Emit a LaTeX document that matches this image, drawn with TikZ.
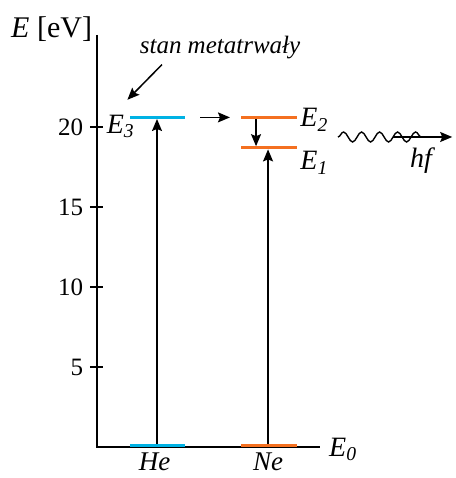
\documentclass[tikz,border=0pt]{standalone}
\usepackage{fontspec}
\setmainfont{Liberation Serif}
\usetikzlibrary{arrows.meta, decorations.pathmorphing}
\definecolor{heblue}{RGB}{0,178,228}
\definecolor{neorange}{RGB}{244,112,32}
\tikzstyle{lvl}=[line width=3pt]
\tikzstyle{jarr}=[-{Stealth[length=12pt,width=10pt,inset=2pt]}, line width=1.5pt]
\tikzstyle{lab}=[font=\fontsize{28}{32}\selectfont\itshape, inner sep=0pt]
\tikzstyle{tlab}=[font=\fontsize{25}{30}\selectfont, inner sep=0pt, anchor=east]
\newcommand{\lvE}[1]{E\textsubscript{#1}}

\begin{document}
\begin{tikzpicture}[x=16pt, y=16pt]
        \useasboundingbox (-6.0625,-1.9375) rectangle (22.375,27.9375);
        % axes
        \coordinate (o) at (0,0);
        \coordinate (ytop) at (0,25.75);
        \coordinate (xend) at (13.94,0);
        \draw[line width=1.8pt] (ytop) -- (o) -- (xend);
        \node[lab, font=\fontsize{30}{34}\selectfont, anchor=east] (unit) at (-0.3,26.1)
          {\textit{E} [eV]};
        \foreach \v in {5,10,15,20} {
          \draw[line width=1.2pt] (-0.44,\v) -- (0.38,\v);
          \node[tlab] (t\v) at (-0.85,\v) {\v};
        }
        % levels
        \coordinate (he0l) at (2.06,0.12);  \coordinate (he0r) at (5.5,0.12);
        \coordinate (he3l) at (2.06,20.6);  \coordinate (he3r) at (5.5,20.6);
        \coordinate (ne0l) at (9.0,0.12);   \coordinate (ne0r) at (12.5,0.12);
        \coordinate (ne2l) at (9.0,20.6);   \coordinate (ne2r) at (12.5,20.6);
        \coordinate (ne1l) at (9.0,18.7);   \coordinate (ne1r) at (12.5,18.7);
        \draw[lvl, heblue] (he0l) -- (he0r);
        \draw[lvl, heblue] (he3l) -- (he3r);
        \draw[lvl, neorange] (ne0l) -- (ne0r);
        \draw[lvl, neorange] (ne2l) -- (ne2r);
        \draw[lvl, neorange] (ne1l) -- (ne1r);
        % transitions
        \coordinate (he0) at (3.75,0.2);   \coordinate (he3) at (3.75,20.5);
        \coordinate (ne0) at (10.69,0.2);  \coordinate (ne1) at (10.69,18.6);
        \coordinate (ne2t) at (9.94,20.5); \coordinate (ne1t) at (9.94,18.8);
        \coordinate (tr0) at (6.44,20.6);  \coordinate (tr1) at (8.31,20.6);
        \draw[jarr] (he0) -- (he3);
        \draw[jarr] (ne0) -- (ne1);
        \draw[jarr] (ne2t) -- (ne1t);
        \draw[jarr] (tr0) -- (tr1);
        % labels
        \node[lab, anchor=west] (e3) at (0.6,20.05) {\lvE{3}};
        \node[lab, anchor=west] (e2) at (12.7,20.45) {\lvE{2}};
        \node[lab, anchor=west] (e1) at (12.7,17.75) {\lvE{1}};
        \node[lab, anchor=west] (e0) at (14.5,-0.15) {\lvE{0}};
        \node[lab, font=\fontsize{27}{30}\selectfont\itshape] (he) at (3.6,-0.95) {He};
        \node[lab, font=\fontsize{27}{30}\selectfont\itshape] (ne) at (10.7,-0.95) {Ne};
        \node[lab, font=\fontsize{25}{29}\selectfont\itshape] (meta) at (7.69,24.95)
          {stan metatrwały};
        \coordinate (m0) at (4.06,23.9);
        \coordinate (m1) at (1.9,21.7);
        \draw[jarr] (m0) -- (m1);
        % photon
        \coordinate (w0) at (15.06,19.375);
        \coordinate (w1) at (20.8,19.375);
        \coordinate (w2) at (18.5,19.375);
        \coordinate (w3) at (22.2,19.375);
        \draw[line width=1.4pt, decorate,
          decoration={snake, amplitude=5pt, segment length=18pt}] (w0) -- (w1);
        \draw[jarr] (w2) -- (w3);
        \node[lab] (hf) at (20.25,17.9) {hf};
      \end{tikzpicture}
\end{document}
